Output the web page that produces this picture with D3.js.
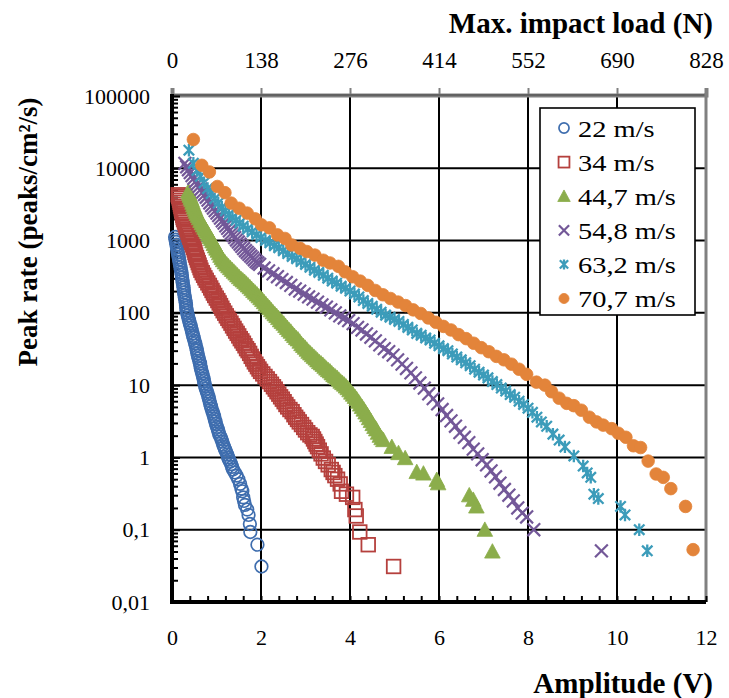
<!DOCTYPE html>
<html><head><meta charset="utf-8">
<script src="https://cdn.jsdelivr.net/npm/d3@7"></script>
<style>
html,body{margin:0;padding:0;background:#fff;}
svg{display:block;}
text{font-family:"Liberation Serif","Times New Roman",serif;fill:#000;}
</style></head>
<body>
<svg id="chart" width="729" height="698"></svg>
<script>
// ---------- data ----------
const seriesNames = ["22 m/s","34 m/s","44,7 m/s","54,8 m/s","63,2 m/s","70,7 m/s"];
const xTicks = [0,2,4,6,8,10,12];
const yTicks = [100000,10000,1000,100,10,1,0.1,0.01];
const yTickLabels = ["100000","10000","1000","100","10","1","0,1","0,01"];
const topTicks = [0,138,276,414,552,690,828];

const s22 = [[0.07,1120],[0.08,1030],[0.09,955],[0.10,880],[0.11,813],[0.12,750],[0.13,692],[0.14,640],[0.15,589],[0.16,545],[0.17,501],[0.18,462],[0.19,427],[0.20,395],[0.21,363],[0.22,335],[0.225,309],[0.235,285],[0.24,263],[0.25,242],[0.26,224],[0.265,207],[0.27,191],[0.28,176],[0.29,162],[0.30,150],[0.31,138],[0.315,127],[0.32,117],[0.33,108],[0.34,100],[0.355,92],[0.37,85],[0.385,78],[0.40,72],[0.415,67],[0.43,62],[0.445,57],[0.46,52],[0.475,48],[0.49,45],[0.505,41],[0.52,38],[0.535,35],[0.55,32],[0.56,30],[0.57,27.5],[0.585,25.4],[0.60,23.4],[0.615,21.6],[0.63,20],[0.64,18.4],[0.65,17],[0.665,15.7],[0.68,14.5],[0.695,13.4],[0.71,12.3],[0.72,11.4],[0.73,10.5],[0.745,9.7],[0.76,8.9],[0.78,8.2],[0.80,7.6],[0.815,7.0],[0.83,6.5],[0.845,6.0],[0.86,5.5],[0.875,5.1],[0.89,4.7],[0.91,4.3],[0.93,4.0],[0.945,3.7],[0.96,3.4],[0.975,3.15],[0.99,2.9],[1.01,2.65],[1.03,2.45],[1.045,2.27],[1.06,2.1],[1.085,1.95],[1.11,1.8],[1.13,1.65],[1.15,1.5],[1.17,1.4],[1.19,1.3],[1.215,1.2],[1.24,1.1],[1.26,1.0],[1.28,0.93],[1.305,0.87],[1.33,0.81],[1.35,0.74],[1.37,0.68],[1.41,0.62],[1.45,0.56],[1.49,0.50],[1.53,0.43],[1.56,0.37],[1.58,0.34],[1.60,0.28],[1.62,0.25],[1.64,0.22],[1.69,0.19],[1.72,0.16],[1.75,0.12],[1.76,0.093],[1.92,0.062],[2.01,0.031]];

const s34 = [[0.14,4300],[0.15,4100],[0.16,3890],[0.17,3620],[0.18,3390],[0.19,3160],[0.20,2950],[0.21,2750],[0.22,2570],[0.23,2400],[0.24,2240],[0.25,2090],[0.26,1950],[0.28,1800],[0.30,1660],[0.32,1530],[0.34,1410],[0.36,1300],[0.38,1200],[0.40,1110],[0.42,1020],[0.44,940],[0.46,871],[0.48,803],[0.50,741],[0.515,684],[0.53,631],[0.55,582],[0.57,537],[0.59,495],[0.61,457],[0.63,422],[0.65,389],[0.68,359],[0.71,331],[0.74,305],[0.77,282],[0.805,260],[0.84,240],[0.87,221],[0.90,204],[0.93,188],[0.96,174],[0.995,160],[1.03,148],[1.06,137],[1.09,126],[1.12,116],[1.15,107],[1.185,99],[1.22,91],[1.255,84],[1.29,78],[1.325,72],[1.36,66],[1.395,61],[1.43,56],[1.465,52],[1.50,48],[1.535,44],[1.57,41],[1.605,38],[1.64,35],[1.675,32],[1.71,30],[1.745,27.5],[1.78,25],[1.815,23],[1.85,21],[1.885,19.5],[1.92,18],[1.955,16.7],[1.99,15.5],[2.04,14.3],[2.09,13.2],[2.14,12.2],[2.19,11.2],[2.235,10.3],[2.28,9.5],[2.32,8.8],[2.36,8.1],[2.40,7.5],[2.44,6.9],[2.48,6.4],[2.52,5.9],[2.56,5.4],[2.60,5.0],[2.65,4.6],[2.70,4.3],[2.74,3.9],[2.78,3.6],[2.82,3.35],[2.86,3.1],[2.91,2.85],[2.96,2.6],[3.00,2.4],[3.05,2.2],[3.10,2.05],[3.15,1.95],[3.18,1.8],[3.21,1.66],[3.24,1.53],[3.27,1.41],[3.31,1.26],[3.35,1.12],[3.40,0.98],[3.45,0.88],[3.51,0.79],[3.58,0.68],[3.62,0.62],[3.66,0.56],[3.72,0.50],[3.78,0.43],[3.81,0.34],[3.92,0.31],[4.06,0.28],[4.11,0.19],[4.14,0.155],[4.22,0.093],[4.41,0.062],[4.98,0.031]];

const s447 = [[0.37,4790],[0.385,4470],[0.40,4170],[0.42,3890],[0.44,3630],[0.46,3350],[0.48,3090],[0.50,2880],[0.52,2690],[0.54,2510],[0.56,2340],[0.585,2190],[0.61,2040],[0.64,1880],[0.67,1740],[0.70,1620],[0.73,1510],[0.76,1410],[0.79,1320],[0.82,1220],[0.85,1120],[0.88,1050],[0.91,977],[0.94,900],[0.97,832],[1.00,776],[1.03,724],[1.06,668],[1.09,617],[1.12,575],[1.15,537],[1.19,501],[1.23,468],[1.27,442],[1.31,417],[1.35,394],[1.39,372],[1.43,351],[1.47,331],[1.51,312],[1.55,295],[1.59,282],[1.63,269],[1.67,254],[1.71,240],[1.75,227],[1.79,214],[1.83,202],[1.87,191],[1.91,180],[1.95,170],[1.99,160],[2.03,151],[2.07,141],[2.11,132],[2.15,124],[2.19,117],[2.23,109],[2.27,102],[2.31,96],[2.35,91],[2.39,85],[2.43,79],[2.47,75],[2.51,71],[2.55,66],[2.59,62],[2.63,58],[2.67,55],[2.71,51],[2.75,48],[2.79,45],[2.83,43],[2.87,40],[2.91,37],[2.95,35],[2.99,33],[3.03,31],[3.07,29],[3.11,27.5],[3.15,26],[3.19,24.7],[3.23,23.4],[3.27,22.1],[3.31,20.9],[3.35,20],[3.39,19.1],[3.43,18],[3.47,17],[3.51,16.2],[3.55,15.5],[3.59,14.6],[3.63,13.8],[3.67,13.2],[3.71,12.6],[3.75,11.9],[3.79,11.2],[3.83,10.7],[3.87,10.2],[3.91,9.6],[3.95,9.1],[3.99,8.5],[4.03,7.9],[4.07,7.4],[4.11,6.9],[4.15,6.4],[4.19,5.9],[4.23,5.4],[4.27,5.0],[4.31,4.6],[4.35,4.2],[4.39,3.85],[4.43,3.5],[4.47,3.2],[4.51,2.9],[4.55,2.65],[4.59,2.45],[4.63,2.2],[4.67,2.0],[4.71,1.85],[4.75,1.74],[4.94,1.4],[5.09,1.15],[5.24,0.98],[5.50,0.63],[5.65,0.60],[5.95,0.49],[5.98,0.44],[6.68,0.30],[6.77,0.26],[6.84,0.21],[7.03,0.10],[7.20,0.05]];

const s548 = [[0.29,11700],[0.33,10500],[0.37,9550],[0.41,8700],[0.45,7940],[0.49,7240],[0.53,6610],[0.57,6100],[0.61,5620],[0.65,5130],[0.69,4680],[0.73,4320],[0.77,3980],[0.81,3630],[0.85,3310],[0.89,3050],[0.93,2820],[0.97,2600],[1.01,2400],[1.05,2210],[1.09,2040],[1.13,1880],[1.17,1740],[1.21,1600],[1.25,1480],[1.29,1360],[1.33,1260],[1.37,1180],[1.41,1100],[1.45,1020],[1.49,955],[1.53,890],[1.57,832],[1.61,776],[1.65,724],[1.69,684],[1.73,646],[1.77,610],[1.81,575],[1.85,543],[1.89,513],[1.93,490],[1.97,468],[2.07,417],[2.17,380],[2.27,347],[2.37,316],[2.47,288],[2.57,263],[2.67,240],[2.77,214],[2.87,200],[2.97,182],[3.07,166],[3.17,155],[3.27,141],[3.37,129],[3.47,120],[3.57,110],[3.67,100],[3.77,91],[3.87,85],[3.97,78],[4.07,71],[4.17,63],[4.27,58],[4.37,51],[4.47,46],[4.57,41],[4.67,36],[4.77,32],[4.87,29],[4.97,26],[5.07,22.4],[5.17,19.5],[5.27,17],[5.37,14.8],[5.47,12.6],[5.57,10.7],[5.67,9.1],[5.77,7.6],[5.87,6.5],[5.97,5.5],[6.07,4.6],[6.17,3.8],[6.27,3.2],[6.37,2.7],[6.47,2.2],[6.57,1.9],[6.67,1.6],[6.77,1.3],[6.87,1.12],[6.97,0.93],[7.07,0.79],[7.17,0.65],[7.27,0.54],[7.37,0.44],[7.47,0.36],[7.57,0.30],[7.67,0.25],[7.77,0.20],[7.87,0.17],[7.97,0.15],[8.13,0.10],[9.65,0.051]];

const s632 = [[0.38,17800],[0.48,11700],[0.56,9330],[0.64,7760],[0.72,6310],[0.80,5250],[0.88,4470],[0.96,3800],[1.04,3310],[1.12,2880],[1.20,2570],[1.28,2290],[1.36,2090],[1.44,1910],[1.52,1740],[1.60,1580],[1.70,1450],[1.80,1320],[1.90,1200],[2.00,1100],[2.10,1000],[2.20,933],[2.30,851],[2.40,794],[2.50,724],[2.60,661],[2.70,603],[2.80,562],[2.90,513],[3.00,468],[3.10,427],[3.20,389],[3.30,363],[3.40,331],[3.50,302],[3.60,275],[3.70,257],[3.80,234],[3.90,219],[4.00,200],[4.10,182],[4.20,166],[4.30,148],[4.40,135],[4.50,123],[4.60,112],[4.70,102],[4.80,93],[4.90,87],[5.00,81],[5.10,76],[5.20,69],[5.30,63],[5.40,58],[5.50,52],[5.60,49],[5.70,45],[5.80,42],[5.90,38],[6.00,35],[6.10,32],[6.20,30],[6.30,27],[6.40,24.5],[6.50,22.4],[6.60,20.4],[6.70,18.6],[6.80,16.6],[6.90,15.1],[7.00,13.8],[7.10,12.6],[7.20,11.2],[7.30,10.2],[7.40,9.1],[7.50,8.3],[7.60,7.4],[7.70,6.8],[7.80,6.0],[7.90,5.4],[8.00,4.8],[8.10,4.2],[8.20,3.6],[8.30,3.1],[8.42,2.7],[8.56,2.1],[8.70,1.74],[8.83,1.4],[9.03,1.05],[9.24,0.76],[9.33,0.61],[9.41,0.53],[9.48,0.31],[9.58,0.27],[10.08,0.21],[10.18,0.16],[10.50,0.10],[10.68,0.051]];

const s707 = [[0.48,25000],[0.67,11000],[0.84,8900],[1.02,5600],[1.19,4600],[1.33,3300],[1.51,2800],[1.69,2400],[1.87,2000],[2.01,1650],[2.19,1500],[2.37,1200],[2.54,1070],[2.69,870],[2.88,780],[3.03,705],[3.21,630],[3.40,535],[3.55,490],[3.74,440],[3.89,370],[4.06,316],[4.23,275],[4.40,240],[4.57,204],[4.74,178],[4.91,158],[5.08,141],[5.25,126],[5.42,110],[5.59,98],[5.76,85],[5.93,74],[6.10,65],[6.27,58],[6.44,50],[6.61,44],[6.78,38],[6.95,33],[7.12,29],[7.29,25],[7.46,22.4],[7.63,19.5],[7.80,16.6],[7.97,14.1],[8.19,11],[8.38,10],[8.53,8.1],[8.70,6.6],[8.87,5.6],[9.03,5.2],[9.20,4.5],[9.38,3.6],[9.54,3.1],[9.69,2.8],[9.88,2.5],[10.03,2.16],[10.20,1.9],[10.37,1.45],[10.53,1.37],[10.70,0.89],[10.88,0.59],[11.04,0.53],[11.21,0.37],[11.54,0.21],[11.71,0.053]];

const seriesData = [s22, s34, s447, s548, s632, s707];
const seriesColors = ["#3E6DAE","#B5403D","#8BAD4B","#735898","#3C9CBA","#E3843A"];
const seriesShapes = ["circleOpen","square","triangle","x","star","circleFill"];

// ---------- chart ----------
const svg = d3.select("#chart");
const x = d3.scaleLinear().domain([0,12]).range([172,706]);
const y = d3.scaleLog().domain([0.01,100000]).range([602,96]);
const xTop = d3.scaleLinear().domain([0,828]).range([172,706]);

// gridlines
const grid = svg.append("g");
grid.selectAll("line.v").data(xTicks).join("line")
  .attr("x1",d=>x(d)).attr("x2",d=>x(d)).attr("y1",96).attr("y2",602)
  .attr("stroke","#000").attr("stroke-width",2);
grid.selectAll("line.h").data(yTicks).join("line")
  .attr("x1",172).attr("x2",706).attr("y1",d=>y(d)).attr("y2",d=>y(d))
  .attr("stroke","#000").attr("stroke-width",2);

// top secondary axis (gray)
const topAx = svg.append("g").attr("transform","translate(0,95)")
  .call(d3.axisTop(xTop).tickValues(topTicks).tickSize(7).tickPadding(20).tickFormat(d3.format("d")));
topAx.select(".domain").attr("stroke","#808080").attr("stroke-width",4);
topAx.selectAll(".tick line").attr("stroke","#808080").attr("stroke-width",2);
topAx.selectAll("text").attr("font-size",23).attr("font-family","Liberation Serif");
svg.append("line").attr("x1",172).attr("x2",706).attr("y1",95).attr("y2",95).attr("stroke","#444").attr("stroke-width",1);
// right gray edge
svg.append("line").attr("x1",706).attr("x2",706).attr("y1",93).attr("y2",602).attr("stroke","#808080").attr("stroke-width",3);

// bottom axis
const botAx = svg.append("g").attr("transform","translate(0,602)")
  .call(d3.axisBottom(x).tickValues(xTicks).tickSize(0).tickPadding(27));
botAx.select(".domain").remove();
botAx.selectAll("text").attr("font-size",22).attr("font-family","Liberation Serif");
const botMinor = svg.append("g").attr("transform","translate(0,602)")
  .call(d3.axisTop(x).tickValues(d3.range(0,12.01,0.4)).tickSize(6).tickFormat(""));
botMinor.select(".domain").remove();
botMinor.selectAll(".tick line").attr("stroke","#000").attr("stroke-width",2);

// left axis
const leftAx = svg.append("g").attr("transform","translate(172,0)")
  .call(d3.axisLeft(y).tickValues(yTicks).tickSize(0).tickPadding(22).tickFormat((d,i)=>yTickLabels[i]));
leftAx.select(".domain").remove();
leftAx.selectAll("text").attr("font-size",22).attr("font-family","Liberation Serif");
const minorVals = [];
[0.01,0.1,1,10,100,1000,10000].forEach(dec=>{ for(let k=2;k<=9;k++) minorVals.push(k*dec); });
const leftMinor = svg.append("g").attr("transform","translate(172,0)")
  .call(d3.axisRight(y).tickValues(minorVals).tickSize(6).tickFormat(""));
leftMinor.select(".domain").remove();
leftMinor.selectAll(".tick line").attr("stroke","#000").attr("stroke-width",2);
const leftMajor = svg.append("g").attr("transform","translate(172,0)")
  .call(d3.axisRight(y).tickValues(yTicks).tickSize(8).tickFormat(""));
leftMajor.select(".domain").remove();
leftMajor.selectAll(".tick line").attr("stroke","#000").attr("stroke-width",2);

// axis lines
svg.append("line").attr("x1",172).attr("x2",172).attr("y1",94).attr("y2",604).attr("stroke","#000").attr("stroke-width",4);
svg.append("line").attr("x1",170).attr("x2",706).attr("y1",602).attr("y2",602).attr("stroke","#000").attr("stroke-width",4);

// marker drawing
function drawMarker(g, shape, color, cx, cy, s) {
  if (shape === "circleOpen") {
    g.append("circle").attr("cx",cx).attr("cy",cy).attr("r",6.3*s)
      .attr("fill","none").attr("stroke",color).attr("stroke-width",1.7);
  } else if (shape === "circleFill") {
    g.append("circle").attr("cx",cx).attr("cy",cy).attr("r",6.3*s)
      .attr("fill",color).attr("stroke",color).attr("stroke-width",0.8);
  } else if (shape === "square") {
    const h = 6.8*s;
    g.append("rect").attr("x",cx-h).attr("y",cy-h).attr("width",2*h).attr("height",2*h)
      .attr("fill","none").attr("stroke",color).attr("stroke-width",1.8);
  } else if (shape === "triangle") {
    const h = 7.8*s;
    g.append("path").attr("d",`M${cx},${cy-h}L${cx+h},${cy+h*0.85}L${cx-h},${cy+h*0.85}Z`)
      .attr("fill",color).attr("stroke",color).attr("stroke-width",0.8);
  } else if (shape === "x") {
    const h = 6.4*s;
    g.append("path").attr("d",`M${cx-h},${cy-h}L${cx+h},${cy+h}M${cx-h},${cy+h}L${cx+h},${cy-h}`)
      .attr("stroke",color).attr("stroke-width",2.2).attr("fill","none");
  } else if (shape === "star") {
    const h = 5.2*s;
    g.append("path").attr("d",`M${cx-h},${cy-h}L${cx+h},${cy+h}M${cx-h},${cy+h}L${cx+h},${cy-h}M${cx},${cy-h*1.2}L${cx},${cy+h*1.2}`)
      .attr("stroke",color).attr("stroke-width",2.3).attr("fill","none");
  }
}

// series
seriesData.forEach((data,i)=>{
  const g = svg.append("g").attr("class","series");
  data.forEach(d=>drawMarker(g, seriesShapes[i], seriesColors[i], x(d[0]), y(d[1]), 1));
});

// legend
const lg = svg.append("g");
lg.append("rect").attr("x",540).attr("y",108).attr("width",155).attr("height",207)
  .attr("fill","#fff").attr("stroke","#000").attr("stroke-width",1.6);
seriesNames.forEach((n,i)=>{
  const cy = 128 + i*34.1;
  drawMarker(lg, seriesShapes[i], seriesColors[i], 564, cy, 0.8);
  lg.append("text").attr("transform",`translate(578,${cy+8.5}) scale(1.21,1)`)
    .attr("font-size",23.5).text(n);
});

// titles
svg.append("text").attr("x",713).attr("y",33).attr("text-anchor","end")
  .attr("font-size",29).attr("font-weight","bold").text("Max. impact load (N)");
svg.append("text").attr("x",713).attr("y",693).attr("text-anchor","end")
  .attr("font-size",29).attr("font-weight","bold").text("Amplitude (V)");
svg.append("text").attr("transform","translate(37,232) rotate(-90)").attr("text-anchor","middle")
  .attr("font-size",27).attr("font-weight","bold").text("Peak rate (peaks/cm²/s)");
</script>
</body></html>
